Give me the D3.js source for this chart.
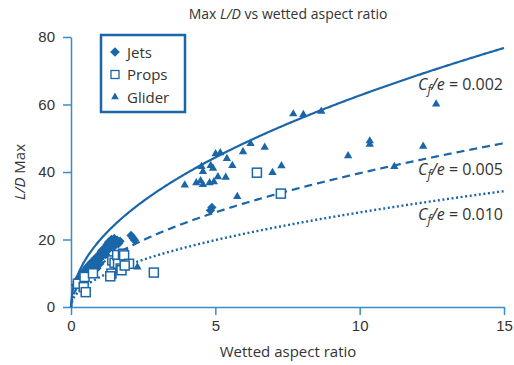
<!DOCTYPE html>
<html>
<head>
<meta charset="utf-8">
<script src="https://cdn.jsdelivr.net/npm/d3@7"></script>
<style>
  body { margin: 0; background: #fff; }
  svg { font-family: "Open Sans", "Noto Sans", sans-serif; }
</style>
</head>
<body>
<div id="chart"></div>
<script>
// Jets (diamonds): [wetted aspect ratio, L/D max]
const jets = [
  [0.15, 6.5], [0.2, 7.5], [0.25, 8.2], [0.3, 8.8], [0.35, 9.5], [0.4, 10.2], [0.45, 9.8],
  [0.5, 11.0], [0.55, 11.8], [0.6, 11.2], [0.65, 12.5], [0.7, 13.2], [0.72, 12.0], [0.8, 13.8],
  [0.85, 14.5], [0.9, 13.2], [0.95, 15.0], [1.0, 15.8], [1.0, 14.2], [1.05, 16.5], [1.1, 15.2],
  [1.1, 17.0], [1.15, 16.0], [1.2, 17.6], [1.2, 15.5], [1.25, 18.5], [1.3, 17.0], [1.3, 19.2],
  [1.35, 18.0], [1.4, 20.0], [1.4, 18.6], [1.45, 19.5], [1.5, 20.3], [1.5, 18.0], [1.55, 19.0],
  [1.6, 19.8], [1.65, 18.8], [1.7, 19.5], [0.9, 11.5], [0.8, 12.2], [1.0, 12.8],
  [2.08, 21.2], [2.15, 20.4], [2.2, 19.8], [4.83, 28.6], [4.88, 29.5]
];
// Props (open squares)
const props = [
  [0.24, 6.9], [0.44, 5.9], [0.47, 8.9], [0.51, 4.4], [0.76, 10.0], [1.4, 9.9], [1.36, 9.1],
  [1.43, 13.8], [1.51, 13.1], [1.6, 15.4], [1.63, 12.8], [1.72, 11.4], [1.75, 10.9], [1.8, 15.8],
  [1.84, 15.3], [2.01, 12.8], [1.86, 12.3], [2.87, 10.2], [6.44, 39.8], [7.27, 33.6]
];
// Gliders (triangles)
const gliders = [
  [12.65, 60.1], [10.35, 49.2], [10.35, 48.2], [12.2, 47.6], [9.6, 44.8], [11.2, 41.6],
  [8.67, 58], [7.7, 57.2], [8.05, 57], [7.29, 41.8], [5.96, 46], [6.22, 48.4], [6.71, 47.3],
  [6.98, 39.8], [5.01, 45.4], [5.17, 45.7], [5.4, 44], [5.59, 41.9], [4.52, 41.6], [4.57, 40.1],
  [4.84, 41.9], [4.92, 41.1], [5.09, 38.6], [5.36, 38.4], [3.94, 36.1], [4.34, 36.8],
  [4.49, 37.4], [4.57, 36.3], [4.8, 36.8], [4.95, 37.1], [5.76, 32.7], [2.3, 11.8]
];
// Theory curves: L/D max = 0.5 * sqrt(pi * Awet / (Cf/e))
const cfe = [0.002, 0.005, 0.010];
const cfeLabels = ["0.002", "0.005", "0.010"];
const xTicks = [0, 5, 10, 15];
const yTicks = [0, 20, 40, 60, 80];

const width = 514, height = 365;
const margin = { left: 71, right: 10, top: 37, bottom: 58 };
const blue = "#1b66a8";
const axisBlue = "#3a8cc8";
const textCol = "#333";

const svg = d3.select("#chart").append("svg")
  .attr("width", width)
  .attr("height", height);

const x = d3.scaleLinear().domain([0, 15]).range([margin.left, width - margin.right]);
const y = d3.scaleLinear().domain([0, 80]).range([height - margin.bottom, margin.top]);

// Axes
const xAxis = svg.append("g")
  .attr("transform", `translate(0,${y(0)})`)
  .call(d3.axisBottom(x).tickValues(xTicks).tickSize(8).tickSizeOuter(0).tickPadding(5));
const yAxis = svg.append("g")
  .attr("transform", `translate(${x(0)},0)`)
  .call(d3.axisLeft(y).tickValues(yTicks).tickSize(8).tickSizeOuter(0).tickPadding(8));
[xAxis, yAxis].forEach(g => {
  g.selectAll("path, line").attr("stroke", axisBlue).attr("stroke-width", 1.5);
  g.selectAll("text").attr("fill", textCol).style("font-size", "15px");
});

// Curves
const dashes = [null, "8,5", "2,2.6"];
const curveLine = d3.line().x(d => x(d[0])).y(d => y(d[1])).curve(d3.curveMonotoneX);
cfe.forEach((c, i) => {
  const pts = d3.range(0, 15.001, 0.05).map(a => [a, 0.5 * Math.sqrt(Math.PI * a / c)]);
  svg.append("path")
    .datum(pts)
    .attr("d", curveLine)
    .attr("fill", "none")
    .attr("stroke", blue)
    .attr("stroke-width", i === 2 ? 2.4 : 2.2)
    .attr("stroke-dasharray", dashes[i]);
});

// Curve labels
const labelY = [90, 175, 220];
cfe.forEach((c, i) => {
  const t = svg.append("text")
    .attr("x", 418)
    .attr("y", labelY[i])
    .attr("fill", textCol)
    .style("font-size", "16px");
  t.append("tspan").attr("font-style", "italic").text("C");
  t.append("tspan").attr("font-style", "italic").attr("dy", 4).style("font-size", "12px").text("f");
  t.append("tspan").attr("font-style", "italic").attr("dy", -4).text("/e");
  t.append("tspan").text(" = " + cfeLabels[i]);
});

// Markers
const pts = svg.append("g");
pts.selectAll(".jet").data(jets).join("path")
  .attr("class", "jet")
  .attr("transform", d => `translate(${x(d[0])},${y(d[1])})`)
  .attr("d", d3.symbol(d3.symbolDiamond2, 55))
  .attr("fill", blue);
pts.selectAll(".glider").data(gliders).join("path")
  .attr("class", "glider")
  .attr("transform", d => `translate(${x(d[0])},${y(d[1])})`)
  .attr("d", d3.symbol(d3.symbolTriangle, 30))
  .attr("fill", blue);
pts.selectAll(".prop").data(props).join("rect")
  .attr("class", "prop")
  .attr("x", d => x(d[0]) - 4.5)
  .attr("y", d => y(d[1]) - 4.5)
  .attr("width", 9)
  .attr("height", 9)
  .attr("fill", "#fff")
  .attr("stroke", blue)
  .attr("stroke-width", 1.5);

// Legend
const legend = svg.append("g");
legend.append("rect")
  .attr("x", 101).attr("y", 35).attr("width", 84).attr("height", 77)
  .attr("fill", "#fff").attr("stroke", blue).attr("stroke-width", 2.5);
const legendItems = [
  { name: "Jets", type: "jet" },
  { name: "Props", type: "prop" },
  { name: "Glider", type: "glider" }
];
legendItems.forEach((item, i) => {
  const cy = 52 + i * 22.5;
  if (item.type === "jet") {
    legend.append("path").attr("transform", `translate(115,${cy})`)
      .attr("d", d3.symbol(d3.symbolDiamond2, 60)).attr("fill", blue);
  } else if (item.type === "prop") {
    legend.append("rect").attr("x", 111).attr("y", cy - 4).attr("width", 8).attr("height", 8)
      .attr("fill", "#fff").attr("stroke", blue).attr("stroke-width", 1.3);
  } else {
    legend.append("path").attr("transform", `translate(115,${cy})`)
      .attr("d", d3.symbol(d3.symbolTriangle, 25)).attr("fill", blue);
  }
  legend.append("text").attr("x", 127).attr("y", cy + 5.5)
    .attr("fill", textCol).style("font-size", "15px").text(item.name);
});

// Title
const title = svg.append("text")
  .attr("x", 288).attr("y", 19)
  .attr("text-anchor", "middle")
  .attr("fill", textCol)
  .style("font-size", "14px");
title.append("tspan").text("Max ");
title.append("tspan").attr("font-style", "italic").text("L/D");
title.append("tspan").text(" vs wetted aspect ratio");

// Axis titles
svg.append("text")
  .attr("x", 288).attr("y", 357)
  .attr("text-anchor", "middle")
  .attr("fill", textCol)
  .style("font-size", "15px")
  .text("Wetted aspect ratio");
const yl = svg.append("text")
  .attr("transform", "translate(25,172) rotate(-90)")
  .attr("text-anchor", "middle")
  .attr("fill", textCol)
  .style("font-size", "15px");
yl.append("tspan").attr("font-style", "italic").text("L/D");
yl.append("tspan").text(" Max");
</script>
</body>
</html>
